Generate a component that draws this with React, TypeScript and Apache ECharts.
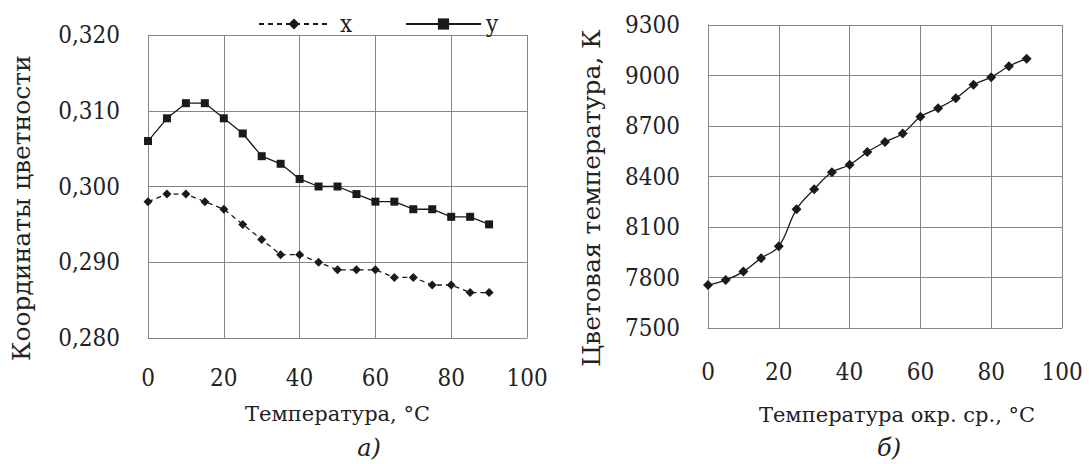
import React, { useEffect, useRef } from "react";
import * as echarts from "echarts";

const temps = [0, 5, 10, 15, 20, 25, 30, 35, 40, 45, 50, 55, 60, 65, 70, 75, 80, 85, 90];
const chromaX = [0.298, 0.299, 0.299, 0.298, 0.297, 0.295, 0.293, 0.291, 0.291, 0.290, 0.289, 0.289, 0.289, 0.288, 0.288, 0.287, 0.287, 0.286, 0.286];
const chromaY = [0.306, 0.309, 0.311, 0.311, 0.309, 0.307, 0.304, 0.303, 0.301, 0.300, 0.300, 0.299, 0.298, 0.298, 0.297, 0.297, 0.296, 0.296, 0.295];
const colorTemp = [7755, 7785, 7835, 7915, 7985, 8205, 8325, 8425, 8470, 8545, 8605, 8655, 8755, 8805, 8865, 8945, 8990, 9055, 9100];

const leftYTitle = "Координаты цветности";
const leftXTitle = "Температура, °С";
const rightYTitle = "Цветовая температура, К";
const rightXTitle = "Температура окр. ср., °С";
const leftCaption = "а)";
const rightCaption = "б)";

const FONT = "DejaVu Serif Condensed";
const FONT_T = "DejaVu Serif";
const TEXT = "#222";
const GRID = "#858585";
const LINE = "#1a1a1a";

export default function App() {
  const ref = useRef<HTMLDivElement>(null);
  useEffect(() => {
    if (!ref.current) return;
    const chart = echarts.init(ref.current, undefined, { renderer: "svg" });
    const axisCommon = {
      axisLine: { show: true, lineStyle: { color: GRID, width: 1 } },
      axisTick: { show: false },
      splitLine: { show: true, lineStyle: { color: GRID, width: 1 } },
    };
    const label = { fontSize: 24, fontFamily: FONT, color: TEXT };
    const nameX = { fontSize: 21, fontFamily: FONT_T, color: TEXT };
    const nameY = { fontSize: 25, fontFamily: FONT_T, color: TEXT };
    const textEl = (text: string, x: number, y: number, size: number) => ({
      type: "text",
      x,
      y,
      style: {
        text,
        fontSize: size,
        fontFamily: FONT_T,
        fontStyle: "italic",
        fill: TEXT,
        align: "center",
        verticalAlign: "middle",
      },
    });
    chart.setOption({
      animation: false,
      backgroundColor: "#fff",
      textStyle: { fontFamily: FONT },
      grid: [
        { left: 148, top: 35, width: 379, height: 303 },
        { left: 708, top: 25, width: 354, height: 303 },
      ],
      xAxis: [
        {
          gridIndex: 0, type: "value", min: 0, max: 100, interval: 20, ...axisCommon,
          axisLabel: { ...label, margin: 28 },
          name: leftXTitle, nameLocation: "middle", nameGap: 65, nameTextStyle: nameX,
        },
        {
          gridIndex: 1, type: "value", min: 0, max: 100, interval: 20, ...axisCommon,
          axisLabel: { ...label, margin: 32 },
          name: rightXTitle, nameLocation: "middle", nameGap: 76,
          nameTextStyle: { ...nameX, padding: [0, 0, 0, 24] },
        },
      ],
      yAxis: [
        {
          gridIndex: 0, type: "value", min: 0.28, max: 0.32, interval: 0.01, ...axisCommon,
          axisLabel: { ...label, margin: 28, formatter: (v: number) => v.toFixed(3).replace(".", ",") },
          name: leftYTitle, nameLocation: "middle", nameGap: 114,
          nameTextStyle: { ...nameY, padding: [0, 43, 0, 0] },
        },
        {
          gridIndex: 1, type: "value", min: 7500, max: 9300, interval: 300, ...axisCommon,
          axisLabel: { ...label, margin: 28, formatter: (v: number) => String(Math.round(v)) },
          name: rightYTitle, nameLocation: "middle", nameGap: 104,
          nameTextStyle: { ...nameY, padding: [0, 43, 0, 0] },
        },
      ],
      legend: [
        {
          data: ["x"], left: 253, top: 7, itemWidth: 70, itemHeight: 14,
          textStyle: { fontSize: 24, fontFamily: FONT, color: TEXT, padding: [0, 0, 0, 6] },
        },
        {
          data: ["y"], left: 400, top: 7, itemWidth: 75, itemHeight: 14,
          textStyle: { fontSize: 24, fontFamily: FONT, color: TEXT },
        },
      ],
      series: [
        {
          name: "x", type: "line", xAxisIndex: 0, yAxisIndex: 0,
          data: temps.map((t, i) => [t, chromaX[i]]),
          symbol: "diamond", symbolSize: 9,
          lineStyle: { color: LINE, width: 1.3, type: [5, 4] },
          itemStyle: { color: LINE },
        },
        {
          name: "y", type: "line", xAxisIndex: 0, yAxisIndex: 0,
          data: temps.map((t, i) => [t, chromaY[i]]),
          symbol: "rect", symbolSize: 8,
          lineStyle: { color: LINE, width: 1.3 },
          itemStyle: { color: LINE },
        },
        {
          name: "Tc", type: "line", xAxisIndex: 1, yAxisIndex: 1,
          data: temps.map((t, i) => [t, colorTemp[i]]),
          smooth: 0.4,
          symbol: "diamond", symbolSize: 10,
          lineStyle: { color: LINE, width: 1.3 },
          itemStyle: { color: LINE },
        },
      ],
      graphic: [
        textEl(leftCaption, 369, 448, 24),
        textEl(rightCaption, 889, 448, 24),
      ],
    });
    return () => chart.dispose();
  }, []);
  return (
    <div
      ref={ref}
      style={{ position: "absolute", left: 0, top: 0, width: 1089, height: 464, background: "#fff" }}
    />
  );
}
